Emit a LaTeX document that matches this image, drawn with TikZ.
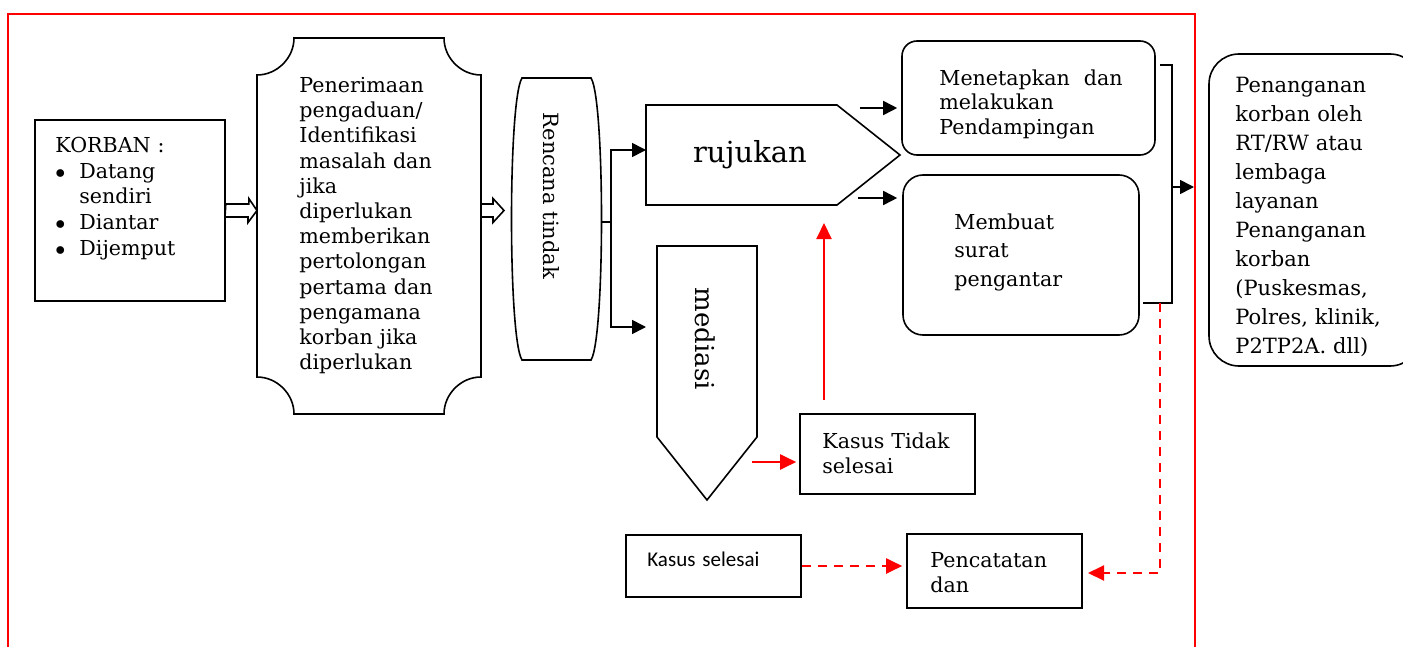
\documentclass[tikz,border=0pt]{standalone}
\usepackage{fontspec}
\setmainfont{DejaVu Serif}
\newfontfamily\calibri{Carlito}
\usetikzlibrary{arrows.meta,fit}

\begin{document}
\begin{tikzpicture}[x=0.5pt,y=-0.5pt,
  shapebox/.style={draw=none, inner sep=0pt, outer sep=0pt},
  box/.style={draw, line width=0.8pt, inner sep=0pt},
  outline/.style={draw, line width=0.8pt},
  txt/.style={anchor=north west, inner sep=0pt, align=left, text width=100pt,
    font=\fontsize{10.3}{12.6}\selectfont},
  arr/.style={line width=0.8pt, -{Triangle[length=7pt,width=7pt]}},
  rarr/.style={red, line width=1pt, -{Triangle[length=8pt,width=7.5pt]}},
  rdash/.style={rarr, dash pattern=on 4.5pt off 3.5pt},
  hollow/.style={draw, line width=0.8pt, fill=white, line join=miter}]
\useasboundingbox (0,0) rectangle (1403,647);

% Red frame
\draw[red, line width=0.7pt] (8,647) -- (8,14) -- (1195,14) -- (1195,647);

% Korban
\node[box, fit={(35,120) (225,301)}] (korban) {};
\node[txt, font=\fontsize{10.3}{12.8}\selectfont] (korbantxt) at (55,137) {KORBAN :\\
  \makebox[12pt][l]{$\bullet$}Datang\\ \makebox[12pt]{}sendiri\\
  \makebox[12pt][l]{$\bullet$}Diantar\\ \makebox[12pt][l]{$\bullet$}Dijemput};

% Penerimaan pengaduan (scroll shape)
\node[shapebox, fit={(257,38) (481,414)}] (terima) {};
\draw[outline] (294,38) -- (444,38) .. controls (444,58) and (461,75) .. (481,75)
  -- (481,377) .. controls (461,377) and (444,394) .. (444,414)
  -- (294,414) .. controls (294,394) and (277,377) .. (257,377)
  -- (257,75) .. controls (277,75) and (294,58) .. (294,38) -- cycle;
\node[txt] (terimatxt) at (299,77) {Penerimaan\\ pengaduan/\\ Identifikasi\\
  masalah dan\\ jika\\ diperlukan\\ memberikan\\ pertolongan\\ pertama dan\\
  pengamana\\ korban jika\\ diperlukan};

% Rencana tindak
\node[shapebox, fit={(512,78) (601,360)}] (rencana) {};
\draw[outline] (522,78) -- (591,78) .. controls (605,100) and (605,338) .. (591,360)
  -- (522,360) .. controls (508,338) and (508,100) .. (522,78) -- cycle;
\node[rotate=-90, inner sep=0pt, font=\fontsize{10.5}{12.6}\selectfont] (rencanatxt) at (551,196) {Rencana tindak};

% Hollow arrows
\draw[hollow] (korban.east) ++(0,-6.5) -- ++(23,0) -- ++(0,-5.5)
  -- (korban.east -| terima.west) -- ++(-9,12) -- ++(0,-5.5) -- ++(-23,0) -- cycle;
\draw[hollow] (terima.east |- korban.east) ++(0,-6.5) -- ++(12,0) -- ++(0,-5.5)
  -- ++(11,12) -- ++(-11,12) -- ++(0,-5.5) -- ++(-12,0) -- cycle;

% Rujukan and mediasi
\node[shapebox, fit={(646,105) (900,205)}] (rujukan) {};
\draw[outline] (646,105) -- (837,105) -- (900,155) -- (837,205) -- (646,205) -- cycle;
\node[inner sep=0pt, font=\fontsize{14.5}{16}\selectfont] (rujukantxt) at (750,155) {rujukan};

\node[shapebox, fit={(657,246) (757,500)}] (mediasi) {};
\draw[outline] (657,246) -- (757,246) -- (757,437) -- (707,500) -- (657,437) -- cycle;
\node[rotate=-90, inner sep=0pt, font=\fontsize{13}{15}\selectfont] (mediasitxt) at (705,339) {mediasi};

\coordinate (split) at (611,222);
\coordinate (rujin) at (646,150);
\coordinate (medin) at (646,327);
\draw[line width=0.8pt] (rencana.east |- split) -- (split);
\draw[arr] (split) |- (rujin);
\draw[arr] (split) |- (medin);

% Right hand boxes
\node[box, rounded corners=7.5pt, fit={(902,41) (1155,155)}] (menetapkan) {};
\node[txt, font=\fontsize{10.3}{12.3}\selectfont] (menetapkantxt) at (939,69)
  {Menetapkan\hspace{7pt}dan\\ melakukan\\ Pendampingan};
\node[box, rounded corners=10pt, fit={(903,175) (1139,335)}] (membuat) {};
\node[txt, font=\fontsize{10.3}{14.3}\selectfont] (membuattxt) at (954,213)
  {Membuat\\ surat\\ pengantar};
\node[box, rounded corners=15pt, fit={(1209,54) (1420,366)}] (penanganan) {};
\node[txt, font=\fontsize{10.5}{14.5}\selectfont] (penanganantxt) at (1235,77)
  {Penanganan\\ korban oleh\\ RT/RW atau\\ lembaga\\ layanan\\ Penanganan\\ korban\\
  (Puskesmas,\\ Polres, klinik,\\ P2TP2A. dll)};

\coordinate (m1) at (860,108);
\coordinate (m2) at (858,198);
\draw[arr, shorten >=2pt] (m1) -- (m1 -| menetapkan.west);
\draw[arr, shorten >=2.5pt] (m2) -- (m2 -| membuat.west);

% Bracket into Penanganan
\coordinate (bt) at (1160,65);
\coordinate (bb) at (1143,303);
\coordinate (bm) at (1172,187);
\coordinate (pin) at (1194,187);
\draw[line width=0.8pt] (bt) -- (bt -| bm) -- (bb -| bm) -- (bb);
\draw[arr] (bm) -- (pin);

% Kasus tidak selesai
\node[box, fit={(800,414) (975,494)}] (ktidak) {};
\node[txt, font=\fontsize{10.3}{12.5}\selectfont] (ktidaktxt) at (822,432) {Kasus Tidak\\ selesai};
\coordinate (r1) at (752,462);
\coordinate (r2) at (824,400);
\coordinate (r3) at (824,223);
\draw[rarr, shorten >=1.5pt] (r1) -- (r1 -| ktidak.west);
\draw[rarr] (r2) -- (r3);

% Kasus selesai and Pencatatan
\node[box, fit={(626,535) (801,597)}] (kselesai) {};
\node[txt, font=\calibri\fontsize{10.5}{12}\selectfont] (kselesaitxt) at (647,552) {Kasus selesai};
\node[box, fit={(907,534) (1082,608)}] (catat) {};
\node[txt, font=\fontsize{10.3}{12.5}\selectfont] (catattxt) at (930,552) {Pencatatan\\ dan};

\coordinate (dtop) at (1160,303);
\coordinate (catin) at (1088,573);
\draw[rdash, shorten >=2pt] (kselesai.east) -- (kselesai.east -| catat.west);
\draw[rdash] (dtop) |- (catin);

\end{tikzpicture}
\end{document}
